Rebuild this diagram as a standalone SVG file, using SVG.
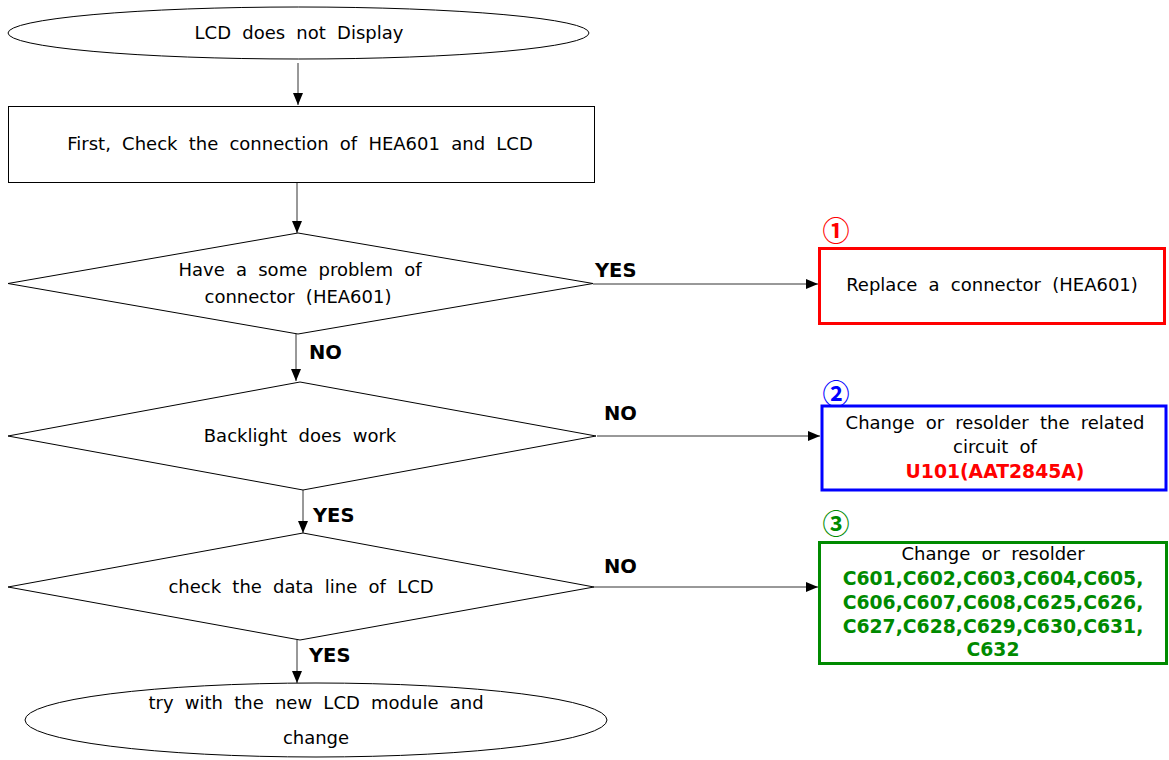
<svg xmlns="http://www.w3.org/2000/svg" width="1169" height="760" viewBox="0 0 1169 760">
<style>
.sh{fill:#fff;stroke:#000;stroke-width:1}
.t{font-family:"DejaVu Sans",sans-serif;font-size:18px;fill:#000;text-anchor:middle;word-spacing:5.5px}
.lb{font-family:"DejaVu Sans",sans-serif;font-size:19.5px;font-weight:bold;fill:#000}
.c{stroke:#333;stroke-width:1;fill:none;marker-end:url(#ah)}
.g{font-family:"DejaVu Sans",sans-serif;font-size:18.8px;font-weight:bold;fill:#008a00;text-anchor:middle}
.num{font-family:"Noto Sans CJK JP","DejaVu Sans",sans-serif;font-size:27px;font-weight:bold;text-anchor:middle}
</style>
<defs>
<marker id="ah" viewBox="0 0 12 10" refX="12" refY="5" markerWidth="12" markerHeight="10" markerUnits="userSpaceOnUse" orient="auto">
<path d="M0,0 L12,5 L0,10 Z" fill="#000"/>
</marker>
</defs>
<rect width="1169" height="760" fill="#fff"/>
<g id="connectors">
<line class="c" x1="298" y1="63" x2="298" y2="105"/>
<line class="c" x1="297" y1="182" x2="297" y2="233"/>
<line class="c" x1="296" y1="334" x2="296" y2="381"/>
<line class="c" x1="303" y1="490" x2="303" y2="533"/>
<line class="c" x1="297" y1="640" x2="297" y2="683"/>
<line class="c" x1="593" y1="284" x2="818" y2="284"/>
<line class="c" x1="597" y1="436" x2="820" y2="436"/>
<line class="c" x1="594" y1="587" x2="818" y2="587"/>
<text class="lb" x="595" y="277">YES</text>
<text class="lb" x="309" y="359">NO</text>
<text class="lb" x="604" y="420">NO</text>
<text class="lb" x="313" y="522">YES</text>
<text class="lb" x="604" y="573">NO</text>
<text class="lb" x="309" y="662">YES</text>
</g>
<g id="start">
<ellipse class="sh" cx="298.5" cy="33" rx="290.5" ry="26"/>
<text class="t" x="299" y="39">LCD does not Display</text>
</g>
<g id="check-connection">
<rect class="sh" x="8.5" y="106.5" width="586" height="76"/>
<text class="t" x="300" y="150">First, Check the connection of HEA601 and LCD</text>
</g>
<g id="decision-connector">
<polygon class="sh" points="298,233 593,283.5 298,334 8,283.5"/>
<text class="t" x="300" y="276">Have a some problem of</text>
<text class="t" x="298" y="303">connector (HEA601)</text>
</g>
<g id="decision-backlight">
<polygon class="sh" points="300,382 596,436 303,490 8,436"/>
<text class="t" x="300" y="442">Backlight does work</text>
</g>
<g id="decision-data">
<polygon class="sh" points="303,533 594,587 300,640 8,587"/>
<text class="t" x="301" y="593">check the data line of LCD</text>
</g>
<g id="end">
<ellipse class="sh" cx="316" cy="720" rx="291" ry="37"/>
<text class="t" x="316" y="709">try with the new LCD module and</text>
<text class="t" x="316" y="744">change</text>
</g>
<g id="box1">
<rect x="819.5" y="248.5" width="345" height="75" fill="#fff" stroke="#ff0000" stroke-width="3"/>
<text class="t" x="992" y="291">Replace a connector (HEA601)</text>
<text class="num" x="836" y="241" fill="#ff0000">①</text>
</g>
<g id="box2">
<rect x="822" y="406" width="344" height="84" fill="#fff" stroke="#0000ff" stroke-width="3"/>
<text class="t" x="995" y="429">Change or resolder the related</text>
<text class="t" x="995" y="453">circuit of</text>
<text class="g" x="995" y="478" style="fill:#ff0000">U101(AAT2845A)</text>
<text class="num" x="836" y="404" fill="#0000ff">②</text>
</g>
<g id="box3">
<rect x="819.5" y="542.5" width="347" height="121" fill="#fff" stroke="#008a00" stroke-width="3"/>
<text class="t" x="993" y="560">Change or resolder</text>
<text class="g" x="993" y="585">C601,C602,C603,C604,C605,</text>
<text class="g" x="993" y="609">C606,C607,C608,C625,C626,</text>
<text class="g" x="993" y="633">C627,C628,C629,C630,C631,</text>
<text class="g" x="993" y="656">C632</text>
<text class="num" x="836" y="534" fill="#008a00">③</text>
</g>
</svg>
